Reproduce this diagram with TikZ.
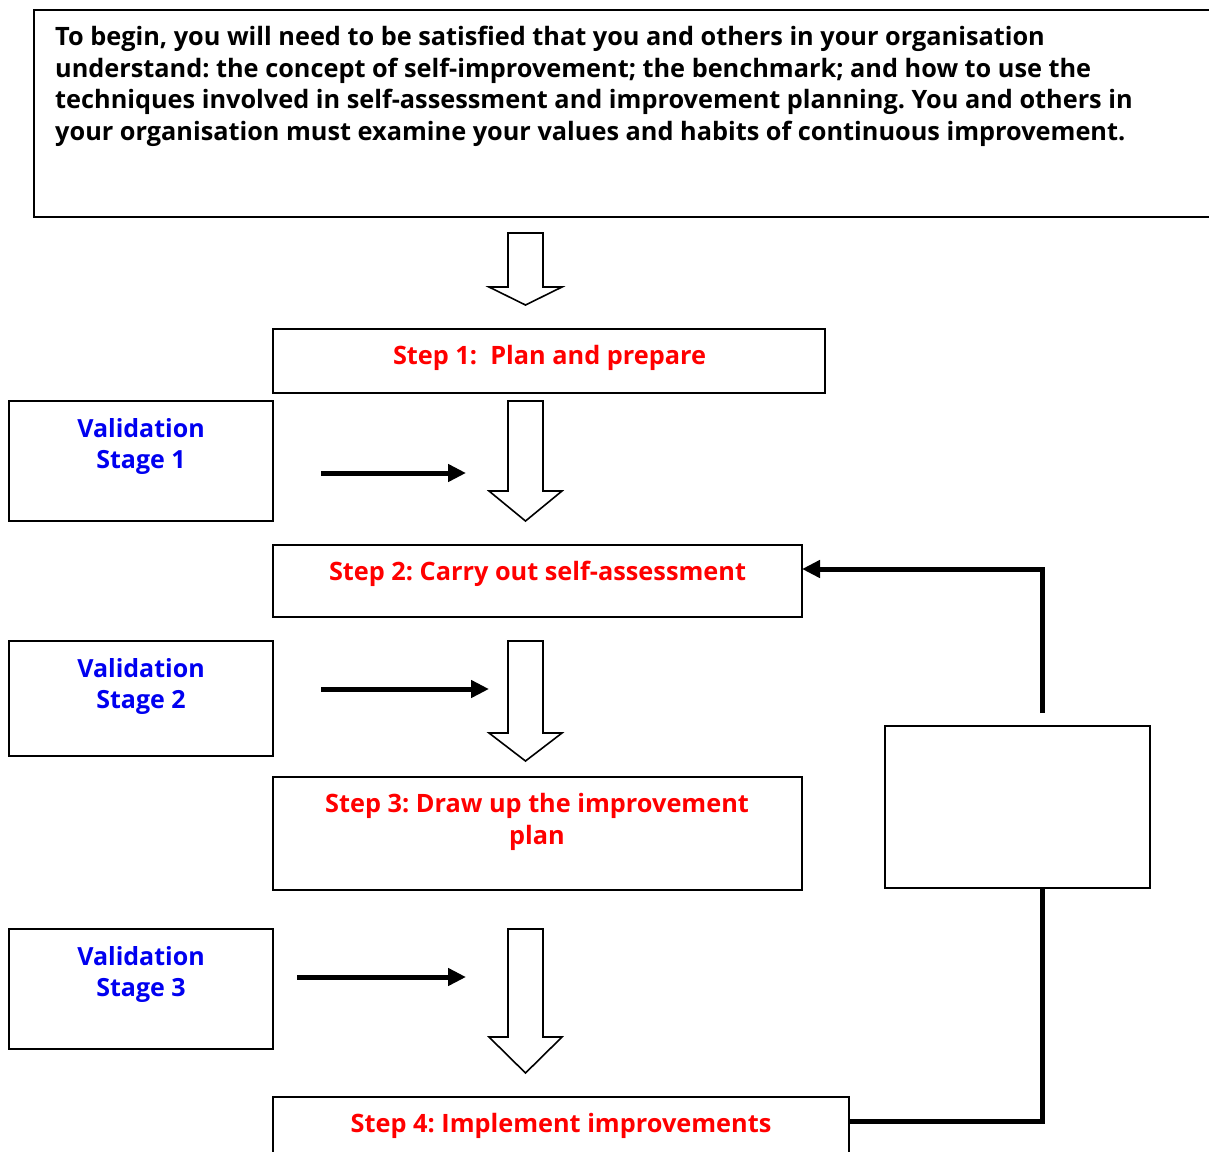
\documentclass[tikz,border=0pt]{standalone}
\usepackage{fontspec}
\setmainfont{Open Sans}
\usetikzlibrary{arrows.meta}
\definecolor{stepred}{RGB}{255,0,0}
\definecolor{valblue}{RGB}{0,0,240}
\newcommand\hollowdn[3]{\draw[hollow] (508,#1) -- (543,#1) -- (543,#2) -- (562,#2) -- (525.5,#3) -- (489,#2) -- (508,#2) -- cycle;}
\frenchspacing
\begin{document}
\begin{tikzpicture}[x=1pt,y=-1pt,
  box/.style={draw, line width=1.6pt, inner sep=0pt},
  hollow/.style={draw, line width=1.6pt, fill=white, line join=miter},
  thickline/.style={line width=5pt},
  thickarrow/.style={line width=5pt, -{Triangle[length=18pt,width=17pt]}},
  maintext/.style={font=\bfseries\fontsize{25.3}{31.5}\selectfont, inner sep=0pt},
  steptext/.style={font=\bfseries\fontsize{25.3}{31.5}\selectfont, text=stepred, inner sep=0pt, align=center},
  valtext/.style={font=\bfseries\fontsize{25}{31.5}\selectfont, text=valblue, inner sep=0pt, align=center}]
\clip (0,0) rectangle (1209,1151);
\fill[white] (0,0) rectangle (1209,1151);

% top box
\node[box, minimum width=1196pt, minimum height=207pt] (top) at (632,113.5) {};
\node[maintext, anchor=base west, align=left] (toptext) at (55,140) {To begin, you will need to be satisfied that you and others in your organisation\\understand: the concept of self-improvement; the benchmark; and how to use the\\techniques involved in self-assessment and improvement planning. You and others in\\your organisation must examine your values and habits of continuous improvement.};

% step boxes
\node[box, minimum width=552pt, minimum height=64pt] (s1) at (549,361) {};
\node[steptext, anchor=base] (s1t) at (549.5,364) {Step 1:\ \ Plan and prepare};
\node[box, minimum width=529pt, minimum height=72pt] (s2) at (537.5,581) {};
\node[steptext, anchor=base] (s2t) at (537.5,580) {Step 2: Carry out self-assessment};
\node[box, minimum width=529pt, minimum height=113pt] (s3) at (537.5,833.5) {};
\node[steptext, anchor=base] (s3t) at (537,844) {Step 3: Draw up the improvement\\plan};
\node[box, minimum width=576pt, minimum height=103pt] (s4) at (561,1148.5) {};
\node[steptext, anchor=base] (s4t) at (561,1132) {Step 4: Implement improvements};

% validation boxes
\node[box, minimum width=264pt, minimum height=120pt] (v1) at (141,461) {};
\node[valtext, anchor=base] (v1t) at (141,468.5) {Validation\\Stage 1};
\node[box, minimum width=264pt, minimum height=115pt] (v2) at (141,698.5) {};
\node[valtext, anchor=base] (v2t) at (141,708.5) {Validation\\Stage 2};
\node[box, minimum width=264pt, minimum height=120pt] (v3) at (141,989) {};
\node[valtext, anchor=base] (v3t) at (141,996.5) {Validation\\Stage 3};

% empty box
\node[box, minimum width=265pt, minimum height=162pt] (eb) at (1017.5,807) {};

% hollow arrows
\hollowdn{233}{287}{305}
\hollowdn{401}{491}{521}
\hollowdn{641}{733}{761}
\hollowdn{929}{1037}{1073}

% black arrows
\coordinate (a1s) at (321,473); \coordinate (a1e) at (466,473);
\coordinate (a2s) at (321,689); \coordinate (a2e) at (489,689);
\coordinate (a3s) at (297,977); \coordinate (a3e) at (466,977);
\draw[thickarrow] (a1s) -- (a1e);
\draw[thickarrow] (a2s) -- (a2e);
\draw[thickarrow] (a3s) -- (a3e);

% feedback loop
\coordinate (fbstart) at (1042,713);
\coordinate (fbend) at (802,569);
\draw[thickarrow] (fbstart) |- (fbend);
\coordinate (s4r) at (849,1121);
\coordinate (ebb) at (1042,888);
\draw[thickline] (s4r) -| (ebb);
\end{tikzpicture}
\end{document}
